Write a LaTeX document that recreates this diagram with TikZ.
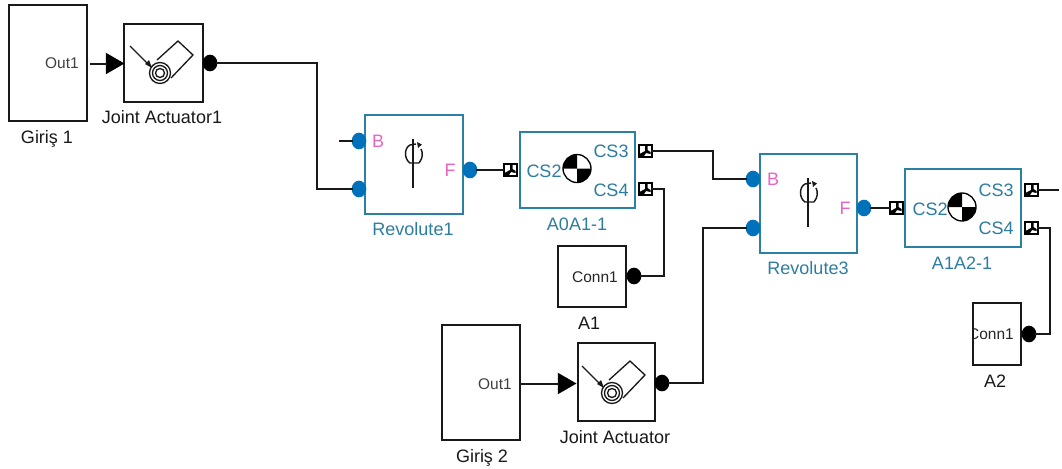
\documentclass[tikz,border=0pt]{standalone}
\usepackage{fontspec}
\setmainfont{Liberation Sans}
\usetikzlibrary{shapes.geometric}
\definecolor{teal}{RGB}{44,128,165}
\definecolor{simtxt}{RGB}{45,125,160}
\definecolor{pinkt}{RGB}{232,100,195}
\definecolor{portb}{RGB}{0,114,188}
\definecolor{inkk}{RGB}{25,25,25}
\newcommand{\actuatoricon}[2]{%
  \begin{scope}[shift={(#1,#2)}]
    \draw[inkk,line width=1] (-30,-17) -- (-12,1);
    \fill[inkk] (-8,5) -- (-15,1) -- (-11,-3) -- cycle;
    \draw[inkk,line width=1] (-3,-3) -- (18,-22) -- (33,-8) -- (11,15);
    \draw[inkk,line width=1,fill=white] (0,10) circle (10.5);
    \draw[inkk,line width=1] (0,10) circle (7.5);
    \draw[inkk,line width=1] (0,10) circle (4.5);
  \end{scope}}
\newcommand{\revicon}[2]{%
  \begin{scope}[shift={(#1,#2)}]
    \draw[inkk,line width=1.6] (0,0) -- (0,49);
    \draw[inkk,line width=1.1] (3,5) -- (-3,6) .. controls (-9,9) and (-9,20) .. (-3,24) -- (6,24);
    \draw[inkk,line width=1.1] (8,10) .. controls (10,14) and (10,19) .. (6,24);
    \fill[inkk] (4,3) -- (9,5.5) -- (5,9) -- cycle;
  \end{scope}}
\newcommand{\cmicon}[2]{%
  \begin{scope}[shift={(#1,#2)}]
    \fill[white] (0,0) circle (14);
    \fill[black] (0,0) -- (-14,0) arc (180:270:14) -- cycle;
    \fill[black] (0,0) -- (14,0) arc (0:90:14) -- cycle;
    \draw[black,line width=1] (0,0) circle (14);
  \end{scope}}
\newcommand{\conicon}[2]{%
  \begin{scope}[shift={(#1,#2)}]
    \fill[black] (-7.5,-7) rectangle (7.5,7);
    \fill[white] (-5.5,-5) rectangle (5.5,5);
    \fill[black] (0,-5) -- (2.5,-5) -- (2.5,-1) -- (5.5,1) -- (5.5,3) -- (1,2) -- (-1,5) -- (-5.5,5) -- (-5.5,3) -- (0,0) -- cycle;
  \end{scope}}
\tikzset{
  x=0.75pt,y=-0.75pt,
  plainblock/.style={draw=inkk,line width=1.8pt,fill=white,inner sep=0pt},
  simblock/.style={draw=teal,line width=1.8pt,fill=white,inner sep=0pt},
  blacklabel/.style={font=\fontsize{13.5}{15}\selectfont,text=inkk,inner sep=0pt,text height=9.7pt,text depth=0pt},
  bluelabel/.style={blacklabel,text=simtxt},
  pinklabel/.style={blacklabel,text=pinkt},
  smalllabel/.style={font=\fontsize{11.6}{13}\selectfont,text=black!75,inner sep=0pt,text height=8.3pt,text depth=0pt},
  blackport/.style={ellipse,fill=black,inner sep=0pt,minimum width=11pt,minimum height=12.5pt},
  blueport/.style={ellipse,fill=portb,inner sep=0pt,minimum width=11pt,minimum height=12.5pt},
  inport/.style={isosceles triangle,isosceles triangle apex angle=60,fill=black,inner sep=0pt,minimum height=14pt},
  wire/.style={draw=inkk,line width=1.5pt,shorten <=-1.2pt,shorten >=-1.2pt},
  conport/.style={inner sep=0pt,minimum width=11pt,minimum height=10.5pt},
}
\newcommand{\blockat}[7]{%
  \node[#1,minimum width={(#5-#3)*0.75pt},minimum height={(#6-#4)*0.75pt}] (#2) at ({(#3+#5)/2},{(#4+#6)/2}) {#7};}
\begin{document}
\begin{tikzpicture}
\useasboundingbox (0,0) rectangle (1062,468);
\fill[white] (0,0) rectangle (1062,468);
% blocks
\blockat{plainblock}{gin1}{9}{5}{87}{121}{}
\blockat{plainblock}{ja1}{124}{24}{203}{102}{}
\blockat{simblock}{rev1}{365}{115}{463}{214}{}
\blockat{simblock}{body1}{520}{132}{635}{208}{}
\blockat{plainblock}{cn1}{558}{246}{626}{307}{}
\blockat{plainblock}{gin2}{442}{325}{520}{440}{}
\blockat{plainblock}{ja2}{578}{343}{655}{421}{}
\blockat{simblock}{rev3}{760}{154}{857}{253}{}
\blockat{simblock}{body2}{905}{169}{1021}{247}{}
\blockat{plainblock}{cn2}{973}{303}{1021}{365}{}
% free ends
\coordinate (g1out) at (91.6,63.5); \coordinate (g2out) at (522,383.5);
\coordinate (stub1) at (340.6,141); \coordinate (endr) at (1057.4,190);
% ports
\node[inport] (t1) at (112,63.5) {};
\node[inport] (t2) at (564,383.5) {};
\node[blackport] (p1) at (210,63) {};
\node[blackport] (p2) at (662,383) {};
\node[blackport] (pc1) at (634,276) {};
\node[blackport] (pc2) at (1029,334) {};
\node[blueport] (r1b) at (359,141) {};
\node[blueport] (r1c) at (359,189) {};
\node[blueport] (r1f) at (470,170) {};
\node[blueport] (r3b) at (753,179) {};
\node[blueport] (r3c) at (753,228) {};
\node[blueport] (r3f) at (864,208) {};
\conicon{510}{170}\conicon{645}{151}\conicon{645}{189}\conicon{896}{208}\conicon{1031}{190}\conicon{1031}{228}
\node[conport] (c12) at (510,170) {};
\node[conport] (c13) at (645,151) {};
\node[conport] (c14) at (645,189) {};
\node[conport] (c22) at (896,208) {};
\node[conport] (c23) at (1031,190) {};
\node[conport] (c24) at (1031,228) {};
% connectors
\draw[wire] (g1out) -- (t1);
\draw[wire] (g2out) -- (t2);
\draw[wire] (p1) -| (317,189) -- (r1c);
\draw[wire] (stub1) -- (r1b);
\draw[wire] (r1f) -- (c12);
\draw[wire] (c13) -| (713,179) -- (r3b);
\draw[wire] (c14) -| (664,276) -- (pc1);
\draw[wire] (p2) -| (703,228) -- (r3c);
\draw[wire] (r3f) -- (c22);
\draw[wire] (c23) -- (endr);
\draw[wire] (c24) -| (1050,334) -- (pc2);
% icons
\actuatoricon{160}{63}
\actuatoricon{612}{383}
\revicon{413}{139}
\revicon{808}{178}
\cmicon{577}{168.5}
\cmicon{962}{207}
% texts
\node[smalllabel,anchor=east] (o1) at (79,63) {Out1};
\node[smalllabel,anchor=east] (o2) at (512,384) {Out1};
\node[smalllabel,anchor=east,text=black!85] (k1) at (618,277) {Conn1};
\begin{scope}
\clip (974,304) rectangle (1020,364);
\node[smalllabel,anchor=east,text=black!85] (k2) at (1014,334) {Conn1};
\end{scope}
\node[blacklabel] (l1) at (47,137) {Giriş 1};
\node[blacklabel] (l2) at (162,117) {Joint Actuator1};
\node[bluelabel] (l3) at (413,229) {Revolute1};
\node[bluelabel] (l4) at (577,224) {A0A1-1};
\node[blacklabel] (l5) at (589,323) {A1};
\node[blacklabel] (l6) at (615,437) {Joint Actuator};
\node[blacklabel] (l7) at (482,456) {Giriş 2};
\node[bluelabel] (l8) at (808,268) {Revolute3};
\node[bluelabel] (l9) at (962,263) {A1A2-1};
\node[blacklabel] (l10) at (995,381) {A2};
\node[pinklabel] (b1) at (378,141) {B};
\node[pinklabel] (f1) at (450,170) {F};
\node[pinklabel] (b3) at (773,179) {B};
\node[pinklabel] (f3) at (845,208) {F};
\node[bluelabel] (s12) at (544,171) {CS2};
\node[bluelabel] (s13) at (611,151) {CS3};
\node[bluelabel] (s14) at (611,190) {CS4};
\node[bluelabel] (s22) at (930,209) {CS2};
\node[bluelabel] (s23) at (996,190) {CS3};
\node[bluelabel] (s24) at (996,228) {CS4};
\end{tikzpicture}
\end{document}
